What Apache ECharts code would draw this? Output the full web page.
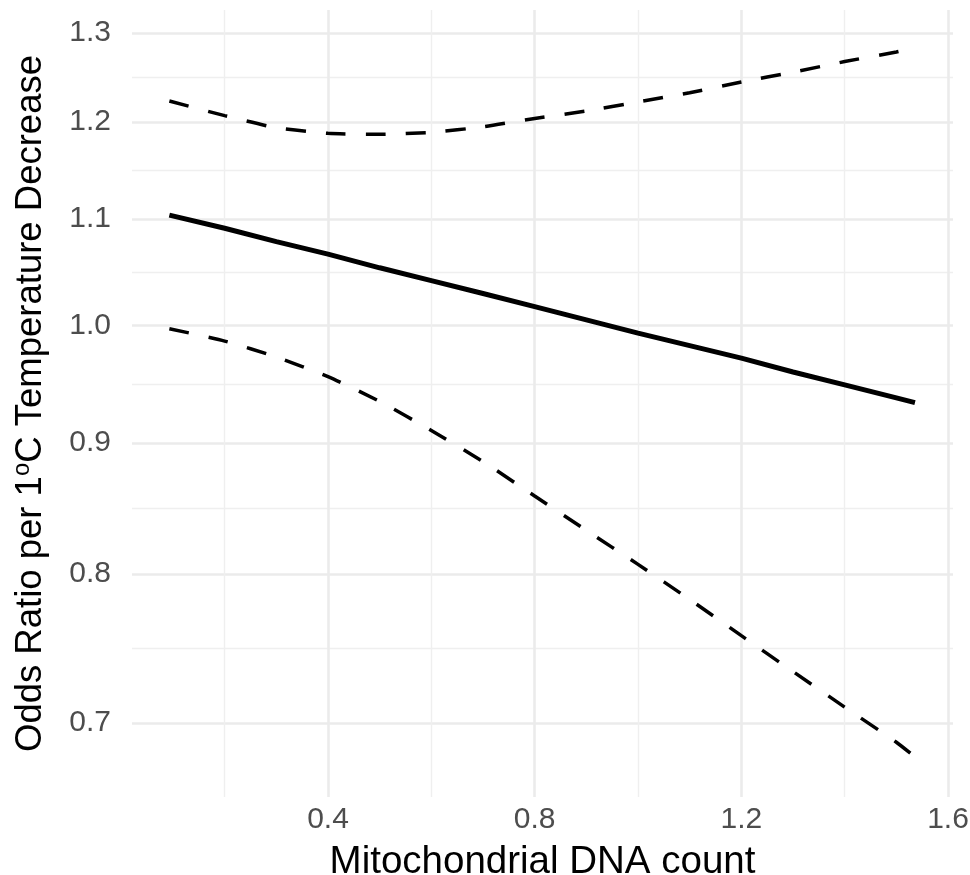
<!DOCTYPE html>
<html>
<head>
<meta charset="utf-8">
<script src="https://cdn.jsdelivr.net/npm/echarts@6/dist/echarts.min.js"></script>
<style>
  html, body { margin: 0; padding: 0; background: #fff; }
  #chart { width: 970px; height: 875px; }
</style>
</head>
<body>
<div id="chart"></div>
<script>
// mitochondrial DNA count (x) and odds ratio per 1°C decrease with 95% band
const mtDNA = [0.093, 0.2, 0.3, 0.4, 0.5, 0.6, 0.7, 0.8, 0.9, 1.0, 1.1, 1.2, 1.3, 1.4, 1.5, 1.536];
const estimate = [1.104, 1.091, 1.078, 1.066, 1.053, 1.041, 1.029, 1.017, 1.005, 0.993, 0.982, 0.971, 0.959, 0.948, 0.937, 0.933];
const upper = [1.223, 1.207, 1.194, 1.188, 1.187, 1.189, 1.195, 1.204, 1.212, 1.222, 1.232, 1.244, 1.255, 1.267, 1.278, 1.283];
const lower = [0.997, 0.986, 0.972, 0.955, 0.934, 0.910, 0.885, 0.858, 0.832, 0.807, 0.782, 0.757, 0.733, 0.710, 0.688, 0.679];

const xTicks = [0.4, 0.8, 1.2, 1.6];
const xMinor = [0.2, 0.6, 1.0, 1.4];
const yTicks = [0.7, 0.8, 0.9, 1.0, 1.1, 1.2, 1.3];

// y is drawn on a log scale
const yMajor = yTicks.map((v) => Math.log(v));
const yMinor = yMajor.slice(1).map((v, i) => (v + yMajor[i]) / 2);

const toPairs = (ys) => mtDNA.map((x, i) => [x, Math.log(ys[i])]);

const font = '"Liberation Sans", Arial, Helvetica, sans-serif';
const majorLine = { color: '#EBEBEB', width: 2.6 };
const minorLine = { color: '#EFEFEF', width: 1.4 };

const xRange = { min: 0.0207, max: 1.6096 };
const yRange = { min: Math.log(0.655), max: Math.log(1.327) };

const chart = echarts.init(document.getElementById('chart'));

const option = {
  animation: false,
  backgroundColor: '#fff',
  grid: { left: 132, right: 17, top: 10, bottom: 78, outerBoundsMode: 'none', containLabel: false },
  xAxis: [
    {
      type: 'value',
      ...xRange,
      axisLine: { show: false },
      axisTick: { show: false, customValues: xMinor },
      axisLabel: { show: false },
      splitLine: { show: true, lineStyle: minorLine },
    },
    {
      type: 'value',
      position: 'bottom',
      ...xRange,
      axisLine: { show: false },
      axisTick: { show: false, customValues: xTicks },
      axisLabel: {
        customValues: xTicks,
        formatter: (v) => v.toFixed(1),
        color: '#4D4D4D',
        fontSize: 30,
        fontFamily: font,
        margin: 8,
      },
      splitLine: { show: true, lineStyle: majorLine },
      name: 'Mitochondrial DNA count',
      nameLocation: 'middle',
      nameGap: 46,
      nameTextStyle: { color: '#000', fontSize: 38.5, fontFamily: font },
    },
  ],
  yAxis: [
    {
      type: 'value',
      ...yRange,
      axisLine: { show: false },
      axisTick: { show: false, customValues: yMinor },
      axisLabel: { show: false },
      splitLine: { show: true, lineStyle: minorLine },
    },
    {
      type: 'value',
      position: 'left',
      ...yRange,
      axisLine: { show: false },
      axisTick: { show: false, customValues: yMajor },
      axisLabel: {
        customValues: yMajor,
        formatter: (v) => Math.exp(v).toFixed(1),
        color: '#4D4D4D',
        fontSize: 30,
        fontFamily: font,
        margin: 21,
      },
      splitLine: { show: true, lineStyle: majorLine },
      name: 'Odds Ratio per 1{sup|o}C Temperature Decrease',
      nameLocation: 'middle',
      nameRotate: 90,
      nameGap: 81,
      nameTextStyle: {
        color: '#000',
        fontSize: 36.5,
        lineHeight: 41,
        fontFamily: font,
        rich: {
          sup: { fontSize: 24, lineHeight: 24, verticalAlign: 'top', fontFamily: font, color: '#000' },
        },
      },
    },
  ],
  series: [
    {
      name: 'Upper',
      type: 'line',
      xAxisIndex: 1,
      yAxisIndex: 1,
      data: toPairs(upper),
      showSymbol: false,
      smooth: 0.2,
      lineStyle: { color: '#000', width: 3.5, type: [20, 20], cap: 'butt' },
    },
    {
      name: 'Estimate',
      type: 'line',
      xAxisIndex: 1,
      yAxisIndex: 1,
      data: toPairs(estimate),
      showSymbol: false,
      lineStyle: { color: '#000', width: 5, cap: 'butt' },
    },
    {
      name: 'Lower',
      type: 'line',
      xAxisIndex: 1,
      yAxisIndex: 1,
      data: toPairs(lower),
      showSymbol: false,
      smooth: 0.2,
      lineStyle: { color: '#000', width: 3.5, type: [20, 20], cap: 'butt' },
    },
  ],
};

chart.setOption(option);
</script>
</body>
</html>
